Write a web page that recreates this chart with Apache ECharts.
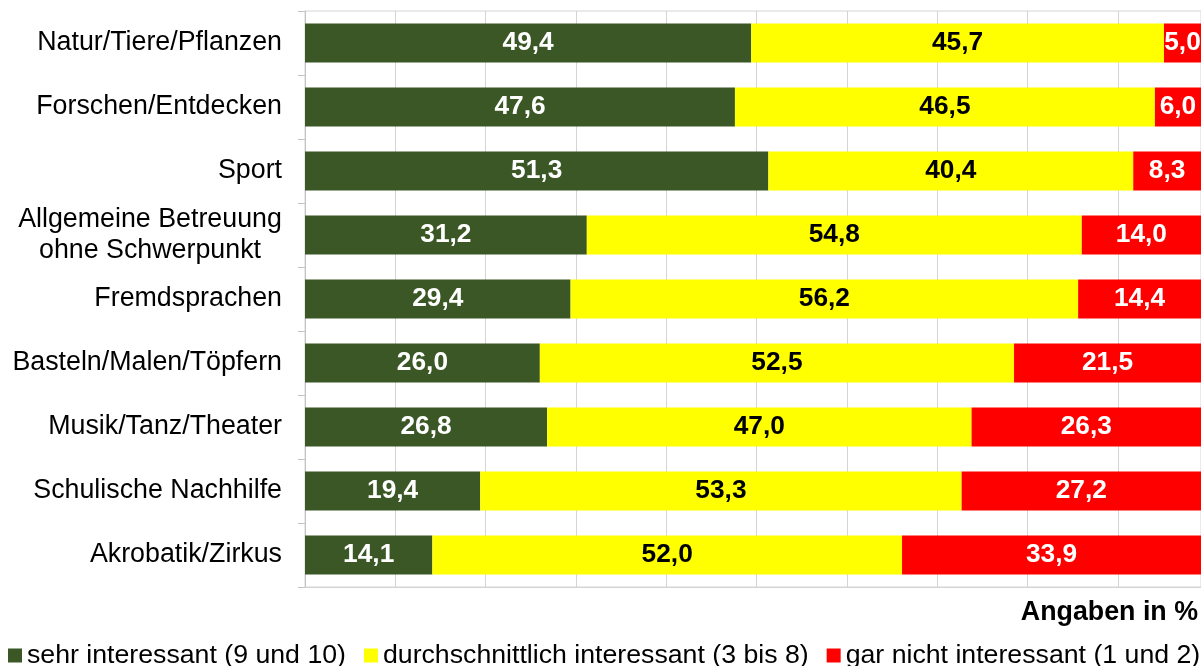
<!DOCTYPE html>
<html>
<head>
<meta charset="utf-8">
<script src="https://cdn.jsdelivr.net/npm/echarts@6/dist/echarts.min.js"></script>
<style>
  html, body { margin: 0; padding: 0; background: #fff; }
  #chart { width: 1201px; height: 666px; }
</style>
</head>
<body>
<div id="chart"></div>
<script>
// Interest in afternoon activity offers, shares in percent
const categories = [
  'Natur/Tiere/Pflanzen',
  'Forschen/Entdecken',
  'Sport',
  'Allgemeine Betreuung\nohne Schwerpunkt',
  'Fremdsprachen',
  'Basteln/Malen/Töpfern',
  'Musik/Tanz/Theater',
  'Schulische Nachhilfe',
  'Akrobatik/Zirkus'
];
const seriesNames = [
  'sehr interessant (9 und 10)',
  'durchschnittlich interessant (3 bis 8)',
  'gar nicht interessant (1 und 2)'
];
const sehr = [49.4, 47.6, 51.3, 31.2, 29.4, 26.0, 26.8, 19.4, 14.1];
const durchschnittlich = [45.7, 46.5, 40.4, 54.8, 56.2, 52.5, 47.0, 53.3, 52.0];
const garNicht = [5.0, 6.0, 8.3, 14.0, 14.4, 21.5, 26.3, 27.2, 33.9];
const unitNote = 'Angaben in %';

const colors = ['#3a5725', '#ffff00', '#ff0000'];
const labelColors = ['#ffffff', '#000000', '#ffffff'];
const values = [sehr, durchschnittlich, garNicht];

const FONT = 'Liberation Sans, Arial, sans-serif';
const FS = 26.8;
const chart = echarts.init(document.getElementById('chart'));
const fmt = v => v.toFixed(1).replace('.', ',');

// multi-line category names are centred within their own block
const catLabel = name => name.indexOf('\n') < 0
  ? name
  : name.split('\n').map(s => '{c|' + s + '}').join('\n');

chart.setOption({
  animation: false,
  textStyle: { fontFamily: FONT },
  // plot area runs to the right edge; the last ~1 % of the scale lies beyond it
  grid: {
    left: 305, top: 11, width: 896, height: 576,
    outerBoundsMode: 'none',
    show: true, borderColor: '#d4d4d4', borderWidth: 1
  },
  xAxis: {
    type: 'value', min: 0, max: 99.2, interval: 10,
    axisLabel: { show: false },
    axisTick: { show: false },
    axisLine: { show: true, lineStyle: { color: '#d4d4d4' } },
    splitLine: { show: true, lineStyle: { color: '#d4d4d4', width: 1 } }
  },
  yAxis: {
    type: 'category', data: categories, inverse: true,
    axisLine: { show: true, lineStyle: { color: '#c4c4c4' } },
    axisTick: { show: true, length: 7, inside: false, lineStyle: { color: '#c4c4c4' } },
    axisLabel: {
      color: '#000', fontSize: FS, margin: 23, align: 'right', lineHeight: 31,
      fontFamily: FONT,
      formatter: catLabel,
      rich: {
        c: { fontSize: FS, lineHeight: 31, width: 264, align: 'center',
             color: '#000', fontFamily: FONT }
      }
    }
  },
  legend: {
    left: 8, top: 642, width: 1260, padding: 0,
    icon: 'rect', itemWidth: 14, itemHeight: 14, itemGap: 18,
    textStyle: { fontSize: 26.7, color: '#000', fontFamily: FONT },
    data: seriesNames
  },
  graphic: [{
    type: 'text', right: 3, top: 599,
    style: { text: unitNote, fontSize: FS, fontWeight: 'bold', fill: '#000',
      fontFamily: FONT }
  }],
  series: seriesNames.map((name, i) => ({
    name, type: 'bar', stack: 'total', data: values[i],
    barCategoryGap: '39%', clip: true,
    itemStyle: { color: colors[i] },
    label: {
      show: true, position: 'inside', color: labelColors[i],
      fontSize: 26.3, fontWeight: 'bold', fontFamily: FONT,
      formatter: p => fmt(p.value)
    }
  }))
});
</script>
</body>
</html>
